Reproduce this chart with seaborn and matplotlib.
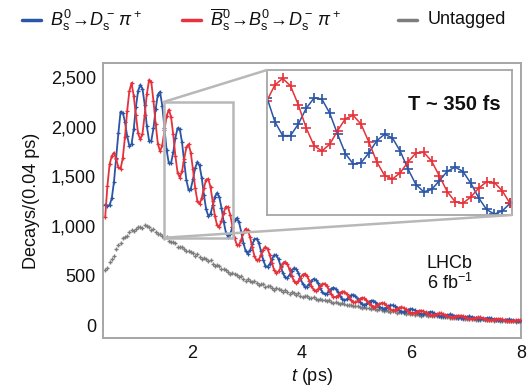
import numpy as np
import pandas as pd
import matplotlib
matplotlib.use("Agg")
import matplotlib.pyplot as plt
import seaborn as sns
from matplotlib.lines import Line2D
from matplotlib.patches import Rectangle, ConnectionPatch

# ---------------- data (decays per 0.04 ps bin) -------------
t_first, t_bin = 0.42, 0.04          # first bin centre, bin width (ps)

blue = [1214, 1202, 1208, 1277, 1443, 1685, 1931, 2150, 2141, 2048,
        1906, 1805, 1821, 1972, 2198, 2360, 2420, 2380, 2221, 2001,
        1858, 1854, 1983, 2176, 2322, 2350, 2210, 1988, 1762, 1630,
        1630, 1740, 1888, 1985, 1975, 1842, 1644, 1460, 1362, 1373,
        1468, 1582, 1643, 1608, 1482, 1312, 1167, 1099, 1121, 1205,
        1294, 1332, 1291, 1180, 1042, 932, 889, 918, 990, 1058,
        1079, 1034, 938, 827, 746, 721, 752, 812, 863, 872,
        828, 746, 657, 598, 585, 616, 666, 704, 704, 662,
        592, 523, 480, 476, 506, 546, 573, 567, 528, 470,
        416, 387, 388, 415, 447, 465, 457, 422, 374, 332,
        312, 317, 340, 366, 378, 367, 336, 297, 265, 252,
        259, 280, 299, 306, 294, 267, 236, 212, 204, 212,
        229, 244, 247, 235, 212, 187, 170, 166, 174, 188,
        199, 200, 188, 169, 149, 136, 135, 143, 154, 162,
        161, 150, 134, 119, 110, 110, 117, 126, 132, 130,
        120, 106, 94, 88, 90, 96, 103, 107, 104, 95,
        84, 75, 71, 73, 79, 85, 87, 83, 76, 67,
        60, 58, 60, 65, 69, 70, 67, 60, 53, 48,
        47, 49, 53, 56, 57, 53, 48, 42, 39, 38]

red = [1087, 1400, 1620, 1703, 1737, 1675, 1589, 1575, 1679, 1892,
       2154, 2355, 2440, 2309, 2113, 1930, 1870, 1929, 2119, 2329,
       2470, 2450, 2257, 2025, 1828, 1750, 1810, 1961, 2108, 2170,
       2100, 1920, 1702, 1535, 1485, 1548, 1676, 1790, 1822, 1737,
       1568, 1383, 1253, 1220, 1279, 1384, 1465, 1472, 1389, 1246,
       1099, 1005, 992, 1050, 1134, 1193, 1187, 1109, 990, 875,
       808, 808, 861, 930, 970, 955, 885, 786, 697, 651,
       660, 707, 761, 788, 768, 705, 624, 556, 526, 540,
       581, 622, 638, 616, 561, 495, 445, 426, 442, 477,
       509, 517, 494, 447, 394, 356, 346, 362, 391, 415,
       418, 395, 355, 313, 286, 281, 297, 321, 338, 337,
       316, 282, 249, 229, 229, 243, 263, 275, 271, 252,
       224, 198, 185, 187, 200, 215, 223, 218, 201, 178,
       158, 149, 152, 164, 176, 181, 175, 160, 141, 126,
       121, 125, 135, 144, 146, 140, 127, 112, 101, 98,
       102, 111, 117, 118, 112, 101, 89, 81, 79, 84,
       91, 96, 95, 90, 80, 71, 65, 65, 69, 74,
       78, 77, 72, 64, 56, 52, 53, 56, 61, 63,
       62, 57, 51, 45, 42, 43, 46, 50, 51, 50]

untagged = [550, 575, 637, 667, 696, 763, 802, 828, 880, 885,
            901, 934, 956, 946, 970, 987, 984, 983, 1007, 998,
            990, 962, 970, 940, 914, 920, 899, 875, 883, 850,
            833, 832, 826, 790, 790, 785, 762, 743, 751, 734,
            725, 700, 712, 687, 666, 678, 662, 643, 651, 617,
            600, 601, 596, 561, 561, 557, 536, 519, 529, 513,
            505, 480, 492, 468, 448, 462, 448, 431, 446, 419,
            408, 414, 414, 384, 389, 389, 371, 358, 371, 359,
            355, 334, 351, 330, 314, 330, 319, 304, 321, 296,
            287, 295, 297, 269, 277, 279, 263, 251, 267, 257,
            252, 241, 248, 237, 226, 233, 226, 217, 223, 210,
            204, 206, 205, 190, 192, 192, 183, 176, 182, 175,
            173, 162, 170, 160, 151, 158, 152, 145, 152, 140,
            135, 138, 138, 124, 127, 127, 119, 113, 119, 113,
            112, 103, 112, 102, 94, 103, 98, 92, 100, 89,
            87, 88, 88, 80, 81, 82, 77, 73, 76, 73,
            72, 67, 70, 65, 61, 65, 63, 58, 63, 56,
            54, 56, 57, 49, 51, 52, 48, 45, 49, 47,
            45, 41, 45, 40, 37, 41, 39, 35, 38, 35]

y_ticks = [0, 500, 1000, 1500, 2000, 2500]
y_ticklabels = ["0", "500", "1,000", "1,500", "2,000", "2,500"]
x_ticks = [2, 4, 6, 8]
zoom_t = (1.5, 2.75)
zoom_y = (880, 2250)

label_blue = r"$B^0_{\rm s}\!\rightarrow\! D^-_{\rm s}\,\pi^+$"
label_red = r"$\overline{B}^0_{\rm s}\!\rightarrow\! B^0_{\rm s}\!\rightarrow\! D^-_{\rm s}\,\pi^+$"
label_gray = "Untagged"

t = np.round(t_first + t_bin * np.arange(len(blue)), 2)
df = pd.DataFrame({"t": t, "blue": blue, "red": red, "untagged": untagged})

# ---------------- style ----------------
sns.set_theme(style="white")
plt.rcParams["font.family"] = ["Liberation Sans", "DejaVu Sans"]
plt.rcParams["mathtext.fontset"] = "custom"
plt.rcParams["mathtext.rm"] = "Liberation Sans"
plt.rcParams["mathtext.it"] = "Liberation Sans:italic"
plt.rcParams["mathtext.bf"] = "Liberation Sans:bold"

C_BLUE = "#2b55a5"
C_RED = "#e5323b"
C_GRAY = "#7d7d7d"
C_FRAME = "#a6a6a6"
FS = 13

fig = plt.figure(figsize=(5.31, 3.86), dpi=100)
ax = fig.add_axes([103 / 531, 1 - 338 / 386, 418 / 531, 275 / 386])

sns.scatterplot(data=df, x="t", y="untagged", marker="+", s=10, color=C_GRAY,
                linewidth=1.0, ax=ax, zorder=2, legend=False)
for col, c in (("blue", C_BLUE), ("red", C_RED)):
    sns.lineplot(data=df, x="t", y=col, color=c, lw=1.3, ax=ax, zorder=3)
    sns.scatterplot(data=df, x="t", y=col, marker="+", s=12, color=c,
                    linewidth=0.9, ax=ax, zorder=3, legend=False)

ax.set_xlim(0.38, 8.0)
ax.set_ylim(-130, 2640)
ax.set_xticks(x_ticks)
ax.set_xticklabels([str(v) for v in x_ticks])
ax.set_yticks(y_ticks)
ax.set_yticklabels(y_ticklabels)
ax.tick_params(direction="in", length=5, width=1.2, color=C_FRAME,
               labelsize=FS, labelcolor="#111111", pad=5)
for s in ax.spines.values():
    s.set_color(C_FRAME)
    s.set_linewidth(1.4)
ax.set_xlabel(r"$t$ (ps)", fontsize=FS, color="#111111", labelpad=3)
ax.set_ylabel("Decays/(0.04 ps)", fontsize=FS, color="#111111", labelpad=8)

ax.text(6.7, 625, "LHCb", ha="center", va="center", fontsize=FS, color="#111111")
ax.text(6.7, 420, r"6 fb$^{-1}$", ha="center", va="center", fontsize=FS, color="#111111")

# zoom rectangle
ax.add_patch(Rectangle((zoom_t[0], zoom_y[0]), zoom_t[1] - zoom_t[0], zoom_y[1] - zoom_y[0],
                       fill=False, ec="#b8b8b8", lw=1.8, zorder=4))

# ---------------- inset ----------------
axin = fig.add_axes([267 / 531, 1 - 215 / 386, 245 / 531, 145 / 386])
sub = df[(df.t >= zoom_t[0] - 0.05) & (df.t <= zoom_t[1] + 0.05)]
for col, c in (("blue", C_BLUE), ("red", C_RED)):
    sns.lineplot(data=sub, x="t", y=col, color=c, lw=1.1, ax=axin)
    sns.scatterplot(data=sub, x="t", y=col, marker="+", s=45, color=c,
                    linewidth=1.2, ax=axin, legend=False)
axin.set_xlim(*zoom_t)
axin.set_ylim(*zoom_y)
axin.set_xticks([])
axin.set_yticks([])
axin.set_xlabel("")
axin.set_ylabel("")
for s in axin.spines.values():
    s.set_color(C_FRAME)
    s.set_linewidth(1.3)
axin.text(0.765, 0.76, "T ~ 350 fs", transform=axin.transAxes, ha="center",
          va="center", fontsize=14.5, fontweight="bold", color="#111111")

for xyA, xyB in (((zoom_t[0], zoom_y[1]), (0, 1)), ((zoom_t[0], zoom_y[0]), (1, 0))):
    con = ConnectionPatch(xyA=xyA, coordsA=ax.transData, xyB=xyB, coordsB=axin.transAxes,
                          color="#b8b8b8", lw=1.8, zorder=1)
    fig.add_artist(con)

# ---------------- legend ----------------
yl = 1 - 20 / 386
for (x0, x1, xt, c, lab) in ((22, 41, 50, C_BLUE, label_blue),
                              (182, 201, 210, C_RED, label_red),
                              (398, 417, 428, C_GRAY, label_gray)):
    fig.add_artist(Line2D([x0 / 531, x1 / 531], [yl, yl], color=c, lw=2.5))
    fig.text(xt / 531, yl, lab, ha="left", va="center", fontsize=FS, color="#111111")

fig.savefig("out.png", dpi=100)
